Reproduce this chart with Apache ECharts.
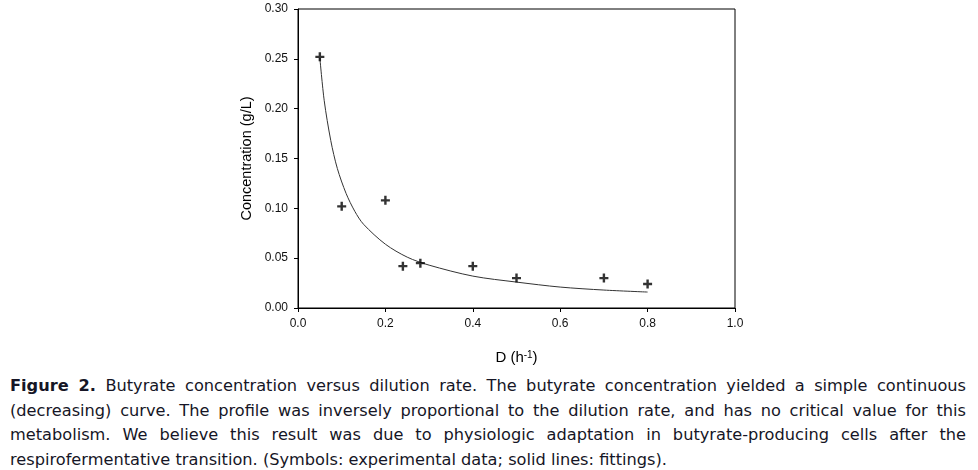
<!DOCTYPE html>
<html>
<head>
<meta charset="utf-8">
<script src="https://cdn.jsdelivr.net/npm/echarts@6/dist/echarts.min.js"></script>
<style>
	html, body { margin: 0; padding: 0; background: #fff; }
	#wrap { position: relative; width: 978px; height: 470px; }
	#chart { position: absolute; left: 0; top: 0; width: 978px; height: 370px; }
	#caption {
		position: absolute; left: 10px; top: 374px; width: 956px;
		font-family: "DejaVu Sans", sans-serif; font-size: 16.2px;
		line-height: 24.5px; color: #161626;
	}
	#caption div { text-align: justify; text-align-last: justify; white-space: nowrap; }
	#caption div.last { text-align-last: left; }
</style>
</head>
<body>
<div id="wrap">
	<div id="chart"></div>
	<div id="caption">
		<div><b>Figure 2.</b> Butyrate concentration versus dilution rate. The butyrate concentration yielded a simple continuous</div>
		<div>(decreasing) curve. The profile was inversely proportional to the dilution rate, and has no critical value for this</div>
		<div>metabolism. We believe this result was due to physiologic adaptation in butyrate-producing cells after the</div>
		<div class="last">respirofermentative transition. (Symbols: experimental data; solid lines: fittings).</div>
	</div>
</div>
<script>
	//实验数据
	var dilution = [0.05, 0.10, 0.20, 0.24, 0.28, 0.40, 0.50, 0.70, 0.80];
	var concentration = [0.252, 0.102, 0.108, 0.042, 0.045, 0.042, 0.030, 0.030, 0.024];

	//拟合曲线
	var fitD = [0.05, 0.06, 0.075, 0.09, 0.11, 0.13, 0.15, 0.20, 0.25, 0.30, 0.40, 0.50, 0.60, 0.70, 0.80];
	var fitC = [0.251, 0.208, 0.168, 0.140, 0.115, 0.097, 0.084, 0.064, 0.051, 0.043, 0.032, 0.026, 0.021, 0.018, 0.016];

	var font = '"Liberation Sans", Arial, sans-serif';

	function pairs(xs, ys) {
		return xs.map(function (x, i) { return [x, ys[i]]; });
	}

	var chart = echarts.init(document.getElementById('chart'));

	chart.setOption({
		animation: false,
		grid: {
			left: 298, top: 9, width: 437, height: 303,
			show: true, borderColor: '#000', borderWidth: 1
		},
		xAxis: {
			type: 'value', min: 0, max: 1, interval: 0.2,
			name: 'D (h{sup|-1})', nameLocation: 'middle', nameGap: 42,
			nameTextStyle: {
				fontFamily: font, fontSize: 15, color: '#000',
				rich: { sup: { fontFamily: font, fontSize: 10, color: '#000', verticalAlign: 'top', lineHeight: 10 } }
			},
			axisLine: { lineStyle: { color: '#000', width: 1 } },
			axisTick: { inside: false, length: 4, lineStyle: { color: '#000' } },
			axisLabel: {
				fontFamily: font, fontSize: 12, color: '#111', margin: 10,
				formatter: function (v) { return v.toFixed(1); }
			},
			splitLine: { show: false }
		},
		yAxis: {
			type: 'value', min: 0, max: 0.3, interval: 0.05,
			name: 'Concentration (g/L)', nameLocation: 'middle', nameGap: 44,
			nameTextStyle: { fontFamily: font, fontSize: 14.5, color: '#000' },
			axisLine: { lineStyle: { color: '#000', width: 1 } },
			axisTick: { inside: false, length: 4, lineStyle: { color: '#000' } },
			axisLabel: {
				fontFamily: font, fontSize: 12, color: '#111', margin: 10,
				formatter: function (v) { return v.toFixed(2); }
			},
			splitLine: { show: false }
		},
		series: [
			{
				type: 'line',
				data: pairs(fitD, fitC),
				smooth: 0.3,
				showSymbol: false,
				lineStyle: { color: '#333', width: 1 },
				z: 2
			},
			{
				type: 'scatter',
				data: pairs(dilution, concentration),
				symbol: 'path://M3,0h2.2v3h3v2.2h-3v3h-2.2v-3h-3v-2.2h3z',
				symbolSize: 9,
				itemStyle: { color: '#000' },
				z: 3
			}
		]
	});
</script>
</body>
</html>
